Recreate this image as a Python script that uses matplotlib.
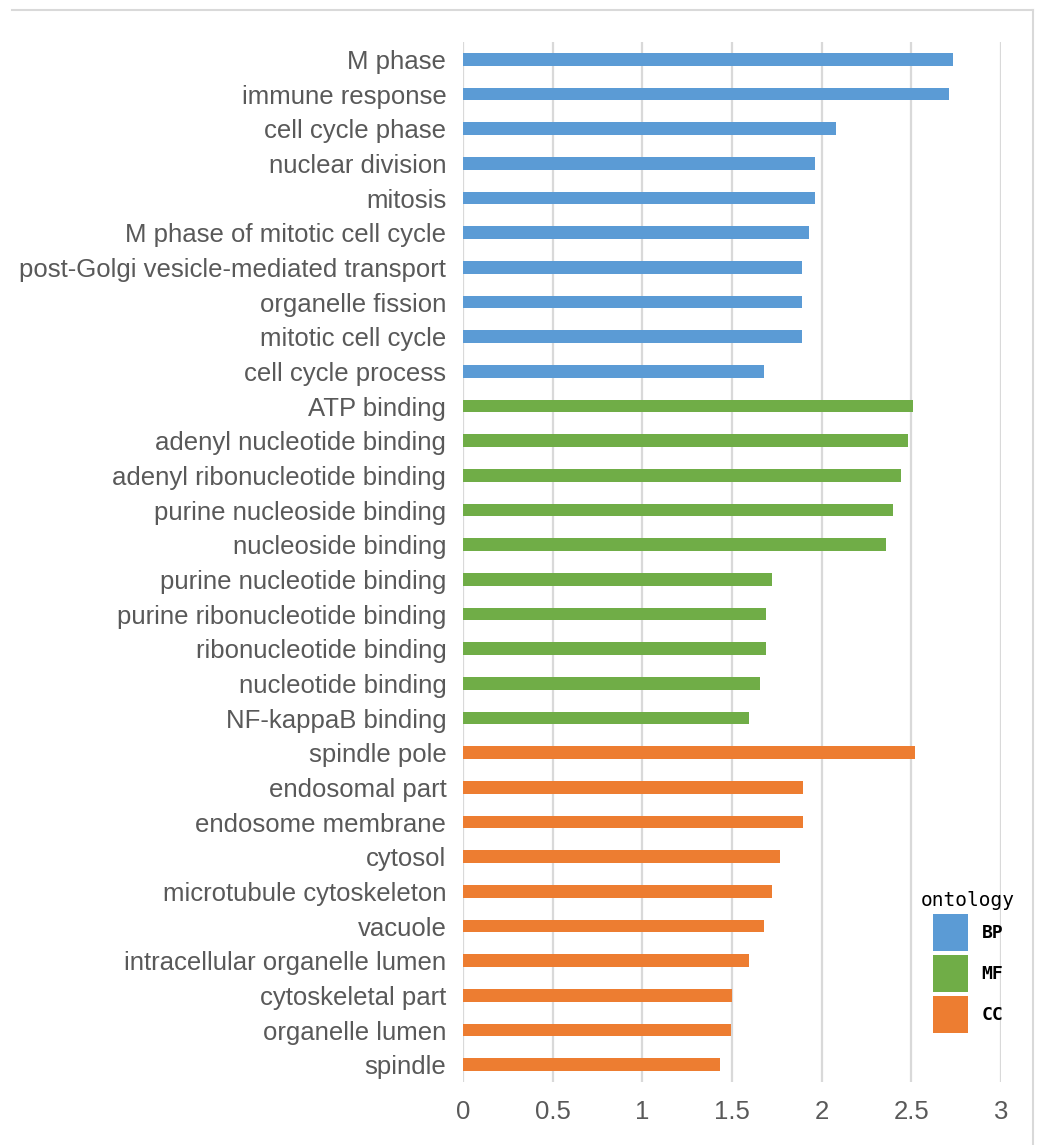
import matplotlib.pyplot as plt
from matplotlib.patches import Patch
from matplotlib.lines import Line2D

plt.rcParams['font.family'] = ['Liberation Sans', 'DejaVu Sans']

bp_terms = ['M phase', 'immune response', 'cell cycle phase', 'nuclear division',
            'mitosis', 'M phase of mitotic cell cycle',
            'post-Golgi vesicle-mediated transport', 'organelle fission',
            'mitotic cell cycle', 'cell cycle process']
bp_values = [2.73, 2.71, 2.08, 1.965, 1.965, 1.93, 1.89, 1.89, 1.89, 1.68]

mf_terms = ['ATP binding', 'adenyl nucleotide binding', 'adenyl ribonucleotide binding',
            'purine nucleoside binding', 'nucleoside binding', 'purine nucleotide binding',
            'purine ribonucleotide binding', 'ribonucleotide binding',
            'nucleotide binding', 'NF-kappaB binding']
mf_values = [2.51, 2.48, 2.44, 2.40, 2.36, 1.725, 1.69, 1.69, 1.655, 1.595]

cc_terms = ['spindle pole', 'endosomal part', 'endosome membrane', 'cytosol',
            'microtubule cytoskeleton', 'vacuole', 'intracellular organelle lumen',
            'cytoskeletal part', 'organelle lumen', 'spindle']
cc_values = [2.52, 1.895, 1.895, 1.77, 1.725, 1.68, 1.595, 1.50, 1.495, 1.435]

groups = ['BP', 'MF', 'CC']
colors = {'BP': '#5B9BD5', 'MF': '#70AD47', 'CC': '#ED7D31'}
x_ticks = [0, 0.5, 1, 1.5, 2, 2.5, 3]

terms = bp_terms + mf_terms + cc_terms
values = bp_values + mf_values + cc_values
onto = ['BP'] * len(bp_terms) + ['MF'] * len(mf_terms) + ['CC'] * len(cc_terms)
ypos = list(range(len(terms)))

fig = plt.figure(figsize=(10.4, 11.45), dpi=100)
ax = fig.add_axes([0.4452, 0.0550, 0.9625 - 0.4452, 0.9633 - 0.0550])

ax.barh(ypos, values, height=0.36, color=[colors[o] for o in onto], zorder=3)
ax.set_ylim(len(terms) - 0.5, -0.5)
ax.set_xlim(0, 3)
ax.set_xticks(x_ticks)
ax.set_xticklabels([f'{t:g}' for t in x_ticks])
ax.set_yticks(ypos)
ax.set_yticklabels(terms)
ax.grid(axis='x', color='#D9D9D9', linewidth=1.6, zorder=0)
for s in ax.spines.values():
    s.set_visible(False)
ax.tick_params(axis='y', length=0, pad=12, labelsize=18.5, labelcolor='#595959')
ax.tick_params(axis='x', length=0, pad=13, labelsize=18.5, labelcolor='#595959')

handles = [Patch(facecolor=colors[g], edgecolor='none') for g in groups]
leg = fig.legend(handles, groups, title='ontology', loc='upper left',
                 bbox_to_anchor=(0.870, 0.236), frameon=False,
                 prop={'family': 'DejaVu Sans Mono', 'weight': 'bold', 'size': 13},
                 title_fontproperties={'family': 'DejaVu Sans Mono', 'size': 14},
                 handlelength=1.94, handleheight=2.75, labelspacing=0.24,
                 handletextpad=0.75)

# outer frame lines (top and right) as in the source image
fig.add_artist(Line2D([12 / 1040, 1033 / 1040], [1 - 10 / 1145, 1 - 10 / 1145],
                      color='#D9D9D9', linewidth=1.5))
fig.add_artist(Line2D([1033 / 1040, 1033 / 1040], [0, 1 - 10 / 1145],
                      color='#D9D9D9', linewidth=1.5))

fig.savefig('out.png', dpi=100)
